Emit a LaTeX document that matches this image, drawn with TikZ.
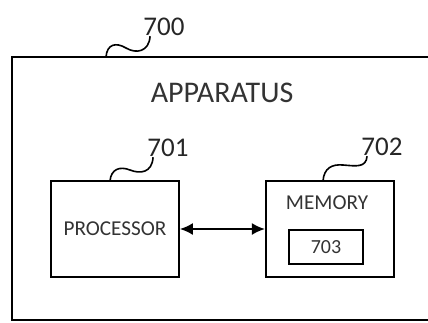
\documentclass[tikz,border=0pt]{standalone}
\usepackage{fontspec}
\setmainfont{Carlito}
\usetikzlibrary{positioning, arrows.meta}

\begin{document}
\begin{tikzpicture}[
    x=0.5pt, y=-0.5pt,
    >={Latex[length=6.5pt, width=6pt]},
    box/.style={
        rectangle,
        draw,
        line width=0.9pt,
        inner sep=0pt
    },
    outerbox/.style={
        box,
        line width=1pt,
        minimum width=432*0.5pt,
        minimum height=263*0.5pt
    },
    unitbox/.style={
        box,
        minimum width=128*0.5pt,
        minimum height=96*0.5pt
    },
    smallbox/.style={
        box,
        minimum width=74*0.5pt,
        minimum height=34*0.5pt
    },
    headtext/.style={
        font=\fontsize{15}{17}\selectfont,
        text=black!80
    },
    boxtext/.style={
        font=\fontsize{10.6}{12}\selectfont,
        text=black!80,
        inner sep=0pt
    },
    reftext/.style={
        font=\fontsize{13.5}{15}\selectfont,
        text=black!85,
        inner sep=0pt
    },
    lead/.style={
        line width=0.8pt
    },
    arrow/.style={
        <->,
        line width=0.9pt
    }
]

    \useasboundingbox (0,0) rectangle (428,322);

    % Apparatus (cut off on the right)
    \node[outerbox] (app) at (228,188.5) {};
    \node[headtext] (app_lbl) at (222,93) {APPARATUS};
    \node[reftext] (app_ref) at (164,27) {700};
    \coordinate (app_tip) at (106,57);
    \draw[lead] (app_tip) .. controls (107,44) and (116,42) .. (126,48)
        .. controls (136,54) and (149,52) .. ([xshift=3.5pt]app_ref.south west);

    % Processor
    \node[unitbox] (proc) at (115,229) {};
    \node[boxtext] (proc_lbl) at (proc) {PROCESSOR};
    \node[reftext] (proc_ref) at (168,148) {701};
    \coordinate (proc_tip) at (110,181);
    \draw[lead] (proc_tip) .. controls (111,169) and (120,166) .. (130,170)
        .. controls (140,174) and (152,173) .. ([xshift=3pt]proc_ref.south west);

    % Memory
    \node[unitbox, right=85*0.5pt of proc] (mem) {};
    \node[boxtext] (mem_lbl) at (327,203) {MEMORY};
    \node[smallbox] (code) at (326,247) {};
    \node[boxtext, font=\fontsize{10}{12}\selectfont] (code_lbl) at (code) {703};
    \node[reftext] (mem_ref) at (382,147) {702};
    \coordinate (mem_tip) at (323,181);
    \draw[lead] (mem_tip) .. controls (324,168) and (332,164) .. (343,165)
        .. controls (356,166) and (366,168) .. ([xshift=3pt]mem_ref.south west);

    % Link
    \draw[arrow] (proc.east) -- (mem.west);

\end{tikzpicture}
\end{document}
